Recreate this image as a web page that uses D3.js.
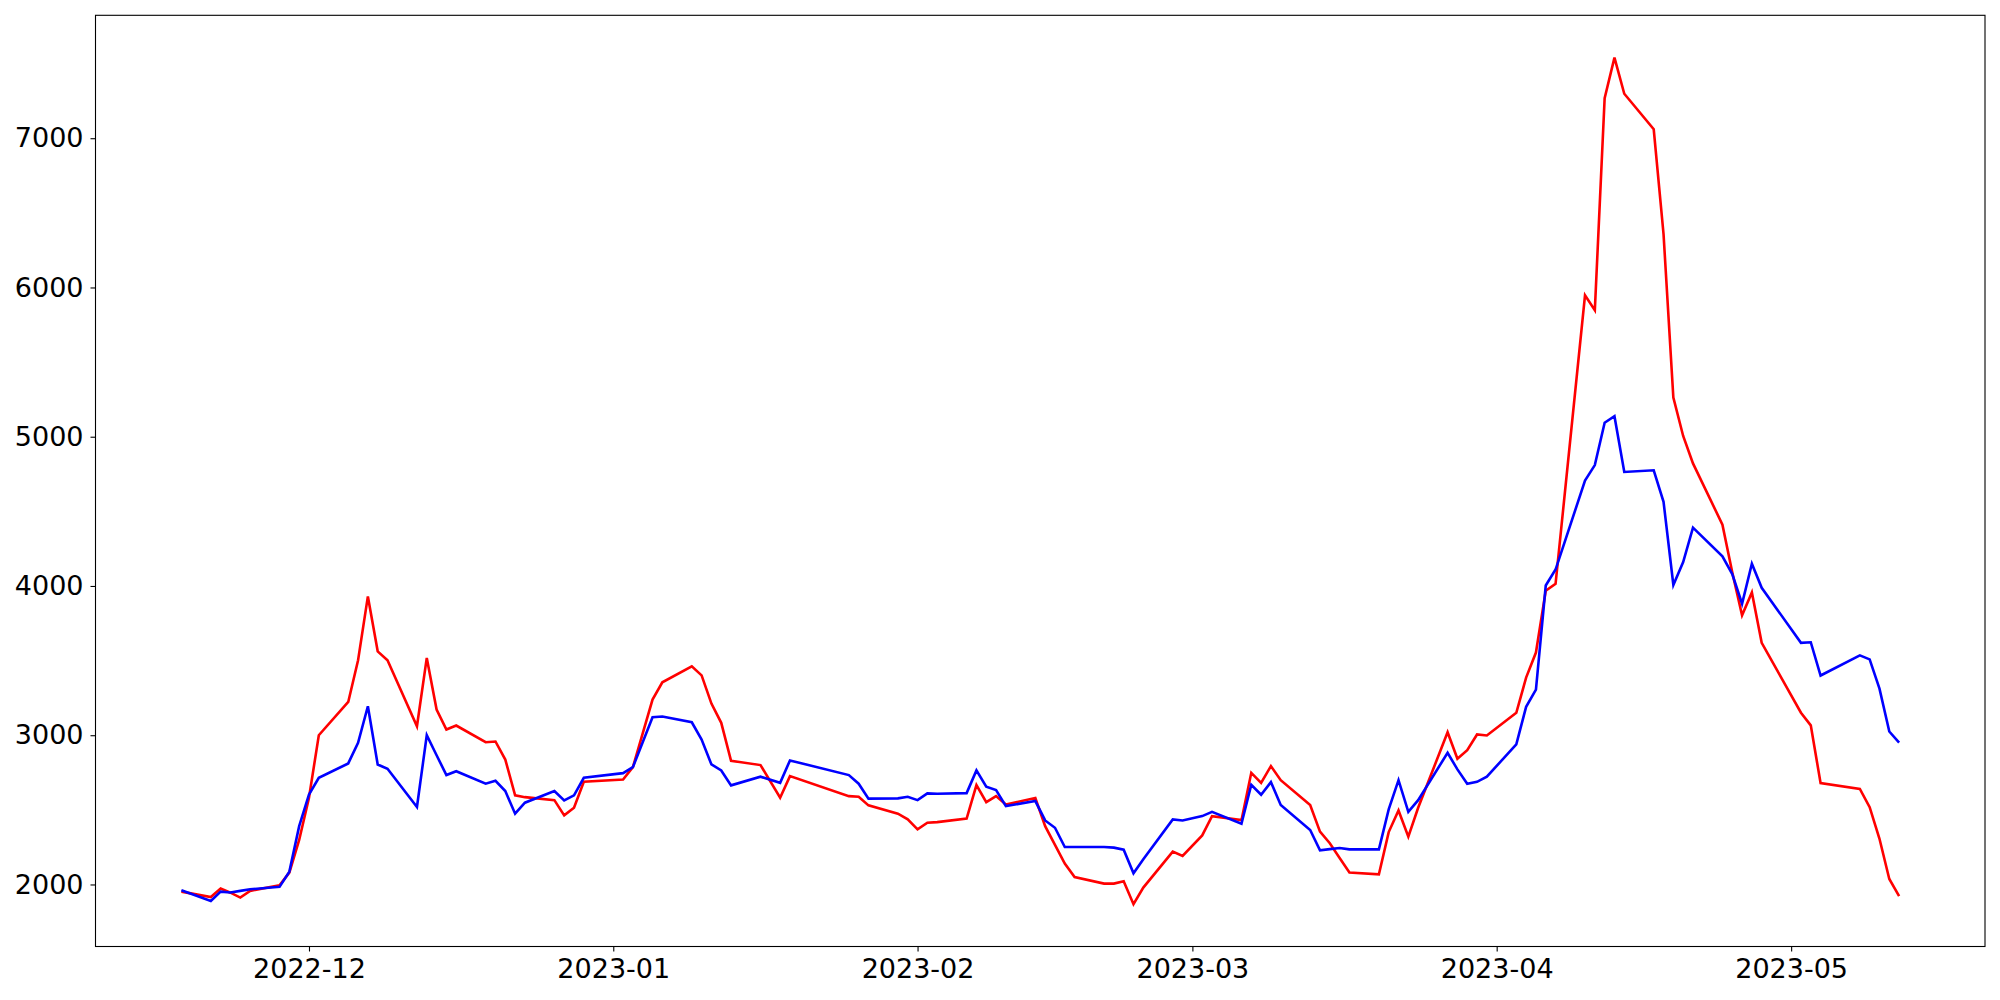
<!DOCTYPE html>
<html>
<head>
<meta charset="utf-8">
<script src="https://cdn.jsdelivr.net/npm/d3@7"></script>
<style>
  html, body { margin: 0; padding: 0; background: #fff; }
  svg { display: block; }
  .tick text { font-family: "DejaVu Sans", sans-serif; font-size: 27px; fill: #000; }
</style>
</head>
<body>
<svg id="chart" width="2000" height="1000"></svg>
<script>
const dates = [
  "2022-11-18","2022-11-21","2022-11-22","2022-11-23","2022-11-24","2022-11-25","2022-11-28","2022-11-29","2022-11-30",
  "2022-12-01","2022-12-02","2022-12-05","2022-12-06","2022-12-07","2022-12-08","2022-12-09","2022-12-12","2022-12-13",
  "2022-12-14","2022-12-15","2022-12-16","2022-12-19","2022-12-20","2022-12-21","2022-12-22","2022-12-23","2022-12-26",
  "2022-12-27","2022-12-28","2022-12-29","2023-01-02","2023-01-03","2023-01-05","2023-01-06","2023-01-09","2023-01-10",
  "2023-01-11","2023-01-12","2023-01-13","2023-01-16","2023-01-18","2023-01-19","2023-01-25","2023-01-26","2023-01-27",
  "2023-01-30","2023-01-31","2023-02-01","2023-02-02","2023-02-03","2023-02-06","2023-02-07","2023-02-08","2023-02-09",
  "2023-02-10","2023-02-13","2023-02-14","2023-02-15","2023-02-16","2023-02-17","2023-02-20","2023-02-21","2023-02-22",
  "2023-02-23","2023-02-24","2023-02-27","2023-02-28","2023-03-02","2023-03-03","2023-03-06","2023-03-07","2023-03-08",
  "2023-03-09","2023-03-10","2023-03-13","2023-03-14","2023-03-15","2023-03-16","2023-03-17","2023-03-20","2023-03-21",
  "2023-03-22","2023-03-23","2023-03-24","2023-03-27","2023-03-28","2023-03-29","2023-03-30","2023-03-31","2023-04-03",
  "2023-04-04","2023-04-05","2023-04-06","2023-04-07","2023-04-10","2023-04-11","2023-04-12","2023-04-13","2023-04-14",
  "2023-04-17","2023-04-18","2023-04-19","2023-04-20","2023-04-21","2023-04-24","2023-04-25","2023-04-26","2023-04-27",
  "2023-04-28","2023-05-02","2023-05-03","2023-05-04","2023-05-08","2023-05-09","2023-05-10","2023-05-11","2023-05-12"
];

const redValues = [
  1952,1916,1973,1945,1912,1957,1995,2080,2298,
  2581,3000,3223,3502,3930,3562,3502,3060,3518,
  3172,3038,3065,2953,2958,2837,2597,2585,2565,
  2463,2514,2688,2703,2786,3239,3355,3462,3401,
  3212,3083,2829,2800,2581,2726,2592,2588,2530,
  2474,2436,2369,2414,2418,2441,2666,2552,2592,
  2536,2579,2391,2265,2140,2050,2006,2006,2021,
  1868,1979,2220,2191,2329,2458,2431,2748,2681,
  2793,2699,2532,2354,2276,2178,2080,2068,2351,
  2496,2320,2514,3020,2842,2900,3005,2998,3150,
  3386,3554,3968,4014,5947,5847,7268,7540,7298,
  7060,6357,5263,5005,4821,4411,4092,3804,3957,
  3619,3151,3066,2679,2640,2518,2306,2037,1922
];

const blueValues = [
  1961,1890,1952,1946,1957,1968,1984,2086,2391,
  2603,2715,2811,2949,3194,2804,2775,2519,3000,
  2866,2733,2759,2675,2695,2626,2474,2548,2626,
  2563,2597,2715,2746,2786,3120,3125,3087,2971,
  2804,2764,2664,2722,2681,2831,2733,2675,2575,
  2577,2588,2565,2610,2608,2612,2764,2655,2632,
  2525,2559,2429,2380,2251,2251,2251,2247,2233,
  2075,2169,2436,2429,2458,2487,2407,2668,2601,
  2686,2532,2365,2229,2237,2244,2235,2235,2503,
  2699,2487,2565,2882,2771,2675,2688,2722,2939,
  3190,3305,4003,4110,4706,4810,5094,5137,4764,
  4775,4564,4007,4160,4391,4199,4080,3881,4149,
  3988,3619,3623,3400,3535,3508,3312,3025,2951
];

const yTickValues = [2000, 3000, 4000, 5000, 6000, 7000];
const xTickFormat = "%Y-%m";

(function () {
  const svg = d3.select("#chart");
  const mLeft = 95.5, mRight = 1985, mTop = 15.3, mBottom = 946.5;

  const parse = d3.utcParse("%Y-%m-%d");
  const xs = dates.map(parse);
  const red = xs.map((d, i) => ({ date: d, value: redValues[i] }));
  const blue = xs.map((d, i) => ({ date: d, value: blueValues[i] }));

  // matplotlib-style 5% margins
  const xExt = d3.extent(xs);
  const xPad = (xExt[1] - xExt[0]) * 0.05;
  const allVals = redValues.concat(blueValues);
  const yExt = d3.extent(allVals);
  const yPad = (yExt[1] - yExt[0]) * 0.05;

  const x = d3.scaleUtc()
    .domain([new Date(+xExt[0] - xPad), new Date(+xExt[1] + xPad)])
    .range([mLeft, mRight]);
  const y = d3.scaleLinear()
    .domain([yExt[0] - yPad, yExt[1] + yPad])
    .range([mBottom, mTop]);

  svg.append("rect").attr("width", 2000).attr("height", 1000).attr("fill", "#fff");

  const line = d3.line().x(d => x(d.date)).y(d => y(d.value));

  const plot = svg.append("g");
  plot.append("path").datum(red)
    .attr("fill", "none").attr("stroke", "#ff0000").attr("stroke-width", 2.6)
    .attr("stroke-linejoin", "miter").attr("d", line);
  plot.append("path").datum(blue)
    .attr("fill", "none").attr("stroke", "#0000ff").attr("stroke-width", 2.6)
    .attr("stroke-linejoin", "miter").attr("d", line);

  const xAxis = d3.axisBottom(x)
    .ticks(d3.utcMonth.every(1))
    .tickFormat(d3.utcFormat(xTickFormat))
    .tickSize(5).tickPadding(7);
  const gx = svg.append("g").attr("transform", `translate(0,${mBottom})`).call(xAxis);
  gx.select(".domain").remove();
  gx.selectAll(".tick line").attr("stroke", "#000").attr("stroke-width", 1.1);

  const yAxis = d3.axisLeft(y)
    .tickValues(yTickValues)
    .tickFormat(d3.format("d"))
    .tickSize(5).tickPadding(7);
  const gy = svg.append("g").attr("transform", `translate(${mLeft},0)`).call(yAxis);
  gy.select(".domain").remove();
  gy.selectAll(".tick line").attr("stroke", "#000").attr("stroke-width", 1.1);

  svg.append("rect")
    .attr("x", mLeft).attr("y", mTop)
    .attr("width", mRight - mLeft).attr("height", mBottom - mTop)
    .attr("fill", "none").attr("stroke", "#000").attr("stroke-width", 1.1);
})();
</script>
</body>
</html>
